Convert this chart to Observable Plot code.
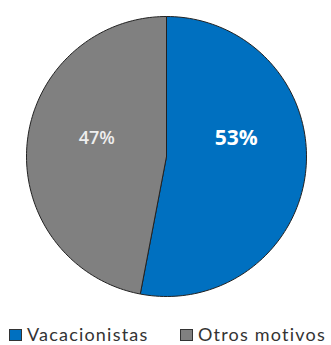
<!DOCTYPE html>
<html>
<head>
<meta charset="utf-8">
<script src="https://cdn.jsdelivr.net/npm/d3@7"></script>
<script src="https://cdn.jsdelivr.net/npm/@observablehq/plot@0.6"></script>
<style>
  html, body { margin: 0; padding: 0; background: #fff; }
  #chart { width: 331px; height: 345px; position: relative; }
  .legend { position: absolute; top: 325px; left: 0; width: 331px; height: 18px; font-family: Lato, sans-serif; font-size: 18px; line-height: 18px; letter-spacing: 1.2px; color: #333; white-space: nowrap; }
  .item { position: absolute; top: 0; display: flex; align-items: center; }
  .sw { width: 13px; height: 12px; border: 1px solid #333; box-sizing: border-box; margin-right: 5px; margin-top: 1px; }
</style>
</head>
<body>
<div id="chart"></div>
<script>
const categories = ["Vacacionistas", "Otros motivos"];
const shares = [53, 47];
const colors = ["#0070C0", "#808080"];
const labelColors = ["#ffffff", "#eeeeee"];
const labelWeights = ["bold", "600"];
const labelSizes = [21, 18];

const pie = d3.pie().sort(null).value(d => d.value);
const arcs = pie(categories.map((c, i) => ({category: c, value: shares[i], i})));

const pts = [];
arcs.forEach(a => {
  const c = a.data.category;
  pts.push({category: c, x: 0, y: 0});
  const n = 120;
  for (let k = 0; k <= n; k++) {
    const t = a.startAngle + (a.endAngle - a.startAngle) * k / n;
    pts.push({category: c, x: Math.sin(t), y: Math.cos(t)});
  }
  pts.push({category: c, x: 0, y: 0});
});

const labels = arcs.map(a => {
  const mid = (a.startAngle + a.endAngle) / 2;
  return {category: a.data.category, text: a.data.value + "%", x: Math.sin(mid) * 0.5, y: 0.13, i: a.data.i};
});

const chart = Plot.plot({
  width: 331,
  height: 300,
  margin: 0,
  x: {domain: [-1, 1], range: [26, 306], axis: null},
  y: {domain: [-1, 1], range: [296, 16], axis: null},
  color: {domain: categories, range: colors},
  marks: [
    Plot.line(pts, {x: "x", y: "y", z: "category", fill: "category", stroke: "#222", strokeWidth: 1, curve: "linear"}),
    ...labels.map(l => Plot.text([l], {x: "x", y: "y", text: "text", fill: labelColors[l.i], fontWeight: labelWeights[l.i], fontSize: labelSizes[l.i], fontFamily: "Open Sans"}))
  ]
});
document.getElementById("chart").appendChild(chart);

const legend = document.createElement("div");
legend.className = "legend";
const itemLeft = [9, 180];
categories.forEach((c, i) => {
  const it = document.createElement("div");
  it.className = "item";
  it.style.left = itemLeft[i] + "px";
  const sw = document.createElement("span");
  sw.className = "sw";
  sw.style.background = colors[i];
  const tx = document.createElement("span");
  tx.textContent = c;
  it.appendChild(sw); it.appendChild(tx);
  legend.appendChild(it);
});
document.getElementById("chart").appendChild(legend);
</script>
</body>
</html>
